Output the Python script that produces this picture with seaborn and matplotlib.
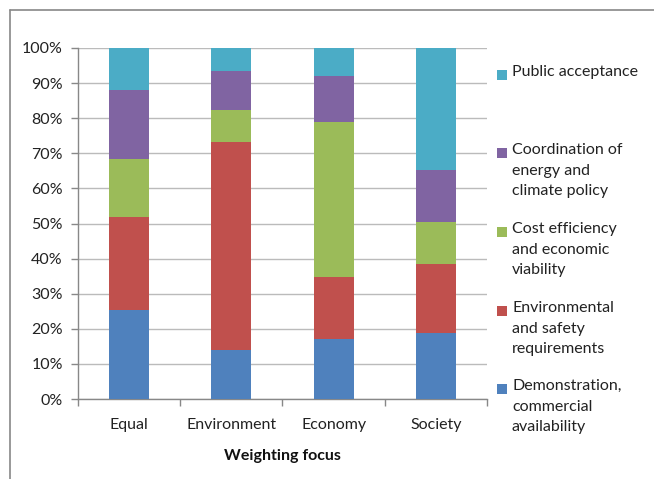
import matplotlib
matplotlib.use("Agg")
import matplotlib.pyplot as plt
import seaborn as sns
import pandas as pd
import numpy as np
from matplotlib.lines import Line2D
from matplotlib.patches import Rectangle
from matplotlib.ticker import PercentFormatter

# data (share of each criterion, %)
categories = ["Equal", "Environment", "Economy", "Society"]
series = ["Demonstration,\ncommercial\navailability",
          "Environmental\nand safety\nrequirements",
          "Cost efficiency\nand economic\nviability",
          "Coordination of\nenergy and\nclimate policy",
          "Public acceptance"]
demonstration = [25.4, 14.0, 17.0, 18.7]
environmental = [26.5, 59.2, 17.7, 19.7]
cost = [16.5, 9.1, 44.2, 12.1]
coordination = [19.6, 11.1, 13.0, 14.7]
public = [12.0, 6.6, 8.1, 34.8]
colors = ["#4F81BD", "#C0504D", "#9BBB59", "#8064A2", "#4BACC6"]

sns.set_theme(style="white")
plt.rcParams["font.family"] = ["Lato", "DejaVu Sans"]

values = np.array([demonstration, environmental, cost, coordination, public])
cum = values.cumsum(axis=0)

fig = plt.figure(figsize=(6.54, 4.79), dpi=100)
ax = fig.add_axes([0.1193, 0.167, 0.6253, 0.7328])

# draw cumulative totals from the top down so the bars stack
for i in range(len(series) - 1, -1, -1):
    df = pd.DataFrame({"cat": categories, "val": cum[i]})
    sns.barplot(data=df, x="cat", y="val", color=colors[i], width=0.39,
                saturation=1, ax=ax, zorder=3, edgecolor="none", linewidth=0)

ax.set_ylim(0, 100)
ax.set_xlim(-0.5, 3.5)
ax.set_yticks(np.arange(0, 101, 10))
ax.yaxis.set_major_formatter(PercentFormatter(decimals=0))
ax.set_xticks(range(4))
ax.set_xticklabels(categories)
ax.set_xticks(np.arange(-0.5, 4, 1), minor=True)
ax.tick_params(axis="x", which="major", length=0, pad=14, labelsize=11.5,
               labelcolor="#222222")
ax.tick_params(axis="x", which="minor", length=5, width=1, color="#888888",
               direction="out", bottom=True)
ax.tick_params(axis="y", length=5, width=1, color="#888888", left=True,
               direction="out", labelsize=11.5, labelcolor="#222222", pad=6)
ax.grid(axis="y", color="#BBBBBB", linewidth=1, zorder=0)
ax.set_axisbelow(True)
for s in ["top", "right"]:
    ax.spines[s].set_visible(False)
for s in ["left", "bottom"]:
    ax.spines[s].set_color("#888888")
    ax.spines[s].set_linewidth(1)
ax.set_ylabel("")
ax.set_xlabel("Weighting focus", fontsize=11.5, fontweight="bold",
              labelpad=12, color="#111111")

# legend (top entry first, square aligned with first line)
W, H = 654, 479
leg_y = [75, 153, 232, 311, 389]
for k, name in enumerate(series[::-1]):
    col = colors[::-1][k]
    y = leg_y[k]
    fig.patches.append(Rectangle((497 / W, 1 - (y + 5) / H), 10 / W, 10 / H,
                                 transform=fig.transFigure, facecolor=col,
                                 edgecolor="none", figure=fig))
    fig.text(512 / W, 1 - (y - 10) / H, name, fontsize=11.5, va="top",
             ha="left", color="#222222", linespacing=1.6)

# chart-area frame (top and left edges)
fig.add_artist(Line2D([10 / W, 10 / W], [0, 1 - 10 / H],
                      transform=fig.transFigure, color="#888888", lw=1.2))
fig.add_artist(Line2D([10 / W, 1], [1 - 10 / H, 1 - 10 / H],
                      transform=fig.transFigure, color="#888888", lw=1.2))

fig.savefig("out.png", dpi=100)
